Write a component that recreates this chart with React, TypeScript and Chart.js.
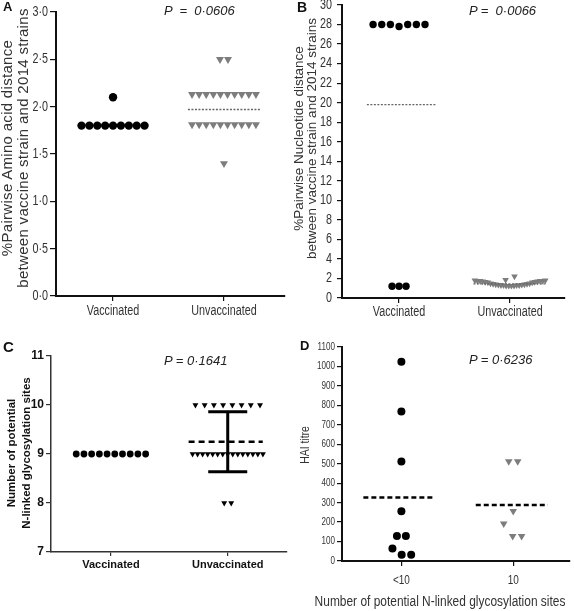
import React, { useEffect, useRef } from 'react';
import { Chart, registerables } from 'chart.js';

Chart.register(...registerables);

// ---------------- data ----------------
// Panel A
const abCategories = ['Vaccinated', 'Unvaccinated'];
const aYTicks = [0, 0.5, 1, 1.5, 2, 2.5, 3];
const aVaccinated = [2.1, 1.8, 1.8, 1.8, 1.8, 1.8, 1.8, 1.8, 1.8, 1.8];
const aUnvaccinated = [
  2.5, 2.5,
  2.13, 2.13, 2.13, 2.13, 2.13, 2.13, 2.13, 2.13, 2.13, 2.13,
  1.81, 1.81, 1.81, 1.81, 1.81, 1.81, 1.81, 1.81, 1.81, 1.81,
  1.4,
];
const aMeanUnvaccinated = 1.97;
const aPValue = 'P  =  0·0606';
const aYTitle = ['%Pairwise Amino acid distance', 'between vaccine strain and 2014 strains'];

// Panel B
const bYTicks = [0, 2, 4, 6, 8, 10, 12, 14, 16, 18, 20, 22, 24, 26, 28, 30];
const bVaccinated = [28, 28, 28, 27.8, 28, 28, 28, 1.2, 1.2, 1.2];
const bUnvaccinated = [
  1.8, 1.75, 1.75, 1.7, 1.65, 1.6, 1.5, 1.45, 1.4, 1.35, 1.3, 1.3, 1.25, 1.25,
  1.25, 1.25, 1.3, 1.3, 1.35, 1.4, 1.45, 1.5, 1.6, 1.65, 1.7, 1.75, 1.75, 1.8,
  1.85, 2.2,
];
const bMeanVaccinated = 19.8;
const bMeanUnvaccinated = 1.45;
const bPValue = 'P =  0·0066';
const bYTitle = ['%Pairwise Nucleotide distance', 'between vaccine strain and 2014 strains'];

// Panel C
const cYTicks = [7, 8, 9, 10, 11];
const cVaccinated = [9, 9, 9, 9, 9, 9, 9, 9, 9, 9];
const cUnvaccinated = [
  10, 10, 10, 10, 10, 10, 10, 10,
  9, 9, 9, 9, 9, 9, 9, 9, 9, 9, 9, 9, 9, 9, 9,
  8, 8,
];
const cMeanUnvaccinated = 9.25;
const cSdUnvaccinated = 0.61;
const cPValue = 'P = 0·1641';
const cYTitle = ['Number of potential', 'N-linked glycosylation sites'];

// Panel D
const dCategories = ['<10', '10'];
const dYTicks = [0, 100, 200, 300, 400, 500, 600, 700, 800, 900, 1000, 1100];
const dBelow10 = [1024, 768, 512, 256, 128, 128, 64, 32, 32];
const dTen = [512, 512, 256, 192, 128, 128];
const dMeanBelow10 = 327;
const dMeanTen = 288;
const dPValue = 'P = 0·6236';
const dYTitle = ['HAI titre'];
const dXTitle = 'Number of potential N-linked glycosylation sites';

// ---------------- styling / layout ----------------
const SANS = '"Liberation Sans", Arial, sans-serif';
const NARROW_X = 0.77; // horizontal squeeze emulating a narrow face
const GRAY = '#7d7d7d';
const BLACK = '#000000';

type Row = { n: number; spacing: number; shift?: number };

function place(values: number[], cat: number, rows: Row[]) {
  const pts: { x: number; y: number }[] = [];
  let k = 0;
  for (const r of rows) {
    for (let i = 0; i < r.n; i++) {
      pts.push({ x: cat + (r.shift ?? 0) + (i - (r.n - 1) / 2) * r.spacing, y: values[k++] });
    }
  }
  return pts;
}

function pointsDs(data: any[], style: 'circle' | 'triangle', color: string, radius: number) {
  return {
    data,
    pointStyle: style,
    pointRotation: style === 'triangle' ? 180 : 0,
    pointRadius: radius,
    pointHoverRadius: radius,
    backgroundColor: color,
    borderColor: color,
    borderWidth: 0,
    pointBorderWidth: 0,
    showLine: false,
    order: 2,
  };
}

function lineDs(x0: number, x1: number, y0: number, y1: number, color: string, width: number, dash: number[] = []) {
  return {
    data: [{ x: x0, y: y0 }, { x: x1, y: y1 }],
    showLine: true,
    borderColor: color,
    borderWidth: width,
    borderDash: dash,
    borderCapStyle: 'butt',
    pointRadius: 0,
    pointHoverRadius: 0,
    fill: false,
    order: 1,
  };
}

// Draws tick labels itself so that they can be horizontally condensed.
const labelPlugin = {
  id: 'condensedLabels',
  afterDraw(chart: any, _args: any, opts: any) {
    const ctx = chart.ctx as CanvasRenderingContext2D;
    for (const axis of ['x', 'y']) {
      const o = opts[axis];
      if (!o) continue;
      const sc = chart.scales[axis];
      for (const t of sc.ticks) {
        const label = o.fmt(t.value);
        const p = sc.getPixelForValue(t.value);
        ctx.save();
        ctx.font = o.font;
        ctx.fillStyle = o.color;
        ctx.textBaseline = 'middle';
        if (axis === 'y') {
          ctx.translate(sc.right - o.offset, p + (o.dy ?? 0));
          ctx.textAlign = 'right';
        } else {
          ctx.translate(p, sc.top + o.offset);
          ctx.textAlign = 'center';
        }
        ctx.scale(o.sx, 1);
        ctx.fillText(label, 0, 0);
        ctx.restore();
      }
    }
  },
};

interface AxisSpec {
  cats: string[];
  xMin: number; xMax: number;
  yTicks: number[]; yFmt: (v: number) => string;
  yWidth: number; xHeight: number;
  padding: { top: number; right: number; bottom: number; left: number };
  yFont: string; xFont: string; tickColor: string; ySx: number; xSx: number;
  yTickLen: number; yTickPad: number; xTickLen: number; xLabelY: number;
  axisWidth: number; axisColor: string;
}

function makeOptions(s: AxisSpec) {
  return {
    responsive: false,
    animation: false,
    devicePixelRatio: 1,
    events: [],
    layout: { padding: s.padding },
    plugins: {
      legend: { display: false },
      tooltip: { enabled: false },
      title: { display: false },
      condensedLabels: {
        x: { font: s.xFont, color: s.tickColor, sx: s.xSx, offset: s.xLabelY, fmt: (v: number) => s.cats[Math.round(v) - 1] ?? '' },
        y: { font: s.yFont, color: s.tickColor, sx: s.ySx, offset: s.yTickLen + s.yTickPad, fmt: s.yFmt },
      },
    },
    scales: {
      x: {
        type: 'linear',
        min: s.xMin,
        max: s.xMax,
        afterBuildTicks: (sc: any) => { sc.ticks = s.cats.map((_, i) => ({ value: i + 1 })); },
        afterFit: (sc: any) => { sc.height = s.xHeight; },
        ticks: { display: false },
        grid: { display: true, drawOnChartArea: false, drawTicks: true, tickLength: s.xTickLen, color: s.axisColor, lineWidth: 1.2 },
        border: { display: true, color: s.axisColor, width: s.axisWidth },
      },
      y: {
        type: 'linear',
        min: s.yTicks[0],
        max: s.yTicks[s.yTicks.length - 1],
        afterBuildTicks: (sc: any) => { sc.ticks = s.yTicks.map((v) => ({ value: v })); },
        afterFit: (sc: any) => { sc.width = s.yWidth; },
        ticks: { display: false },
        grid: { display: true, drawOnChartArea: false, drawTicks: true, tickLength: s.yTickLen, color: s.axisColor, lineWidth: 1.2 },
        border: { display: true, color: s.axisColor, width: s.axisWidth },
      },
    },
  };
}

const dotFmt = (v: number) => v.toFixed(1).replace('.', '·');

function configA() {
  return {
    type: 'scatter',
    plugins: [labelPlugin],
    data: {
      datasets: [
        pointsDs(place(aVaccinated, 1, [{ n: 1, spacing: 0 }, { n: 9, spacing: 0.071 }]), 'circle', BLACK, 4.2),
        pointsDs(place(aUnvaccinated, 2, [{ n: 2, spacing: 0.072 }, { n: 10, spacing: 0.064 }, { n: 10, spacing: 0.064 }, { n: 1, spacing: 0 }]), 'triangle', GRAY, 4.6),
        lineDs(2 - 0.325, 2 + 0.325, aMeanUnvaccinated, aMeanUnvaccinated, '#666', 1.3, [2, 1.5]),
      ],
    },
    options: makeOptions({
      cats: abCategories, xMin: 0.486, xMax: 2.55,
      yTicks: aYTicks, yFmt: dotFmt,
      yWidth: 56, xHeight: 29,
      padding: { top: 12, right: 5, bottom: 0, left: 0 },
      yFont: `14px ${SANS}`, xFont: `14px ${SANS}`, tickColor: '#333', ySx: NARROW_X, xSx: NARROW_X,
      yTickLen: 6, yTickPad: 2, xTickLen: 5, xLabelY: 15,
      axisWidth: 2, axisColor: '#111',
    }),
  };
}

function configB() {
  return {
    type: 'scatter',
    plugins: [labelPlugin],
    data: {
      datasets: [
        pointsDs(place(bVaccinated, 1, [{ n: 7, spacing: 0.078 }, { n: 3, spacing: 0.063 }]), 'circle', BLACK, 3.7),
        pointsDs(place(bUnvaccinated, 2, [{ n: 28, spacing: 0.0235 }, { n: 2, spacing: 0.08 }]), 'triangle', GRAY, 3.8),
        lineDs(1.02 - 0.31, 1.02 + 0.31, bMeanVaccinated, bMeanVaccinated, '#666', 1.3, [2, 1.5]),
        lineDs(2 - 0.33, 2 + 0.33, bMeanUnvaccinated, bMeanUnvaccinated, '#666', 1.3, [2, 1.5]),
      ],
    },
    options: makeOptions({
      cats: abCategories, xMin: 0.486, xMax: 2.495,
      yTicks: bYTicks, yFmt: (v) => String(v),
      yWidth: 55, xHeight: 27,
      padding: { top: 15, right: 9, bottom: 0, left: 0 },
      yFont: `14px ${SANS}`, xFont: `14px ${SANS}`, tickColor: '#333', ySx: NARROW_X, xSx: NARROW_X,
      yTickLen: 5, yTickPad: 5, xTickLen: 5, xLabelY: 14,
      axisWidth: 2, axisColor: '#111',
    }),
  };
}

function configC() {
  const lo = cMeanUnvaccinated - cSdUnvaccinated;
  const hi = cMeanUnvaccinated + cSdUnvaccinated;
  const cap = 0.167;
  return {
    type: 'scatter',
    plugins: [labelPlugin],
    data: {
      datasets: [
        pointsDs(place(cVaccinated, 1, [{ n: 10, spacing: 0.066 }]), 'circle', BLACK, 3.4),
        pointsDs(place(cUnvaccinated, 2, [{ n: 8, spacing: 0.079 }, { n: 15, spacing: 0.043 }, { n: 2, spacing: 0.06 }]), 'triangle', BLACK, 3.4),
        lineDs(2 - 0.335, 2 + 0.3, cMeanUnvaccinated, cMeanUnvaccinated, BLACK, 2.5, [6, 4]),
        lineDs(2, 2, lo, hi, BLACK, 3),
        lineDs(2 - cap, 2 + cap, hi, hi, BLACK, 3),
        lineDs(2 - cap, 2 + cap, lo, lo, BLACK, 3),
      ],
    },
    options: makeOptions({
      cats: abCategories, xMin: 0.487, xMax: 2.504,
      yTicks: cYTicks, yFmt: (v) => String(v),
      yWidth: 51, xHeight: 38,
      padding: { top: 36, right: 3, bottom: 0, left: 0 },
      yFont: `bold 12px ${SANS}`, xFont: `bold 11px ${SANS}`, tickColor: '#111', ySx: 1, xSx: 1,
      yTickLen: 5, yTickPad: 2, xTickLen: 4, xLabelY: 13,
      axisWidth: 1.5, axisColor: '#333',
    }),
  };
}

function configD() {
  return {
    type: 'scatter',
    plugins: [labelPlugin],
    data: {
      datasets: [
        pointsDs(place(dBelow10, 1, [
          { n: 1, spacing: 0 }, { n: 1, spacing: 0 }, { n: 1, spacing: 0 }, { n: 1, spacing: 0 },
          { n: 2, spacing: 0.08 }, { n: 1, spacing: 0, shift: -0.08 }, { n: 2, spacing: 0.085, shift: 0.045 },
        ]), 'circle', BLACK, 4),
        pointsDs(place(dTen, 2, [
          { n: 2, spacing: 0.08 }, { n: 1, spacing: 0 }, { n: 1, spacing: 0, shift: -0.085 }, { n: 2, spacing: 0.08, shift: 0.035 },
        ]), 'triangle', GRAY, 4.4),
        lineDs(1 - 0.34, 1 + 0.3, dMeanBelow10, dMeanBelow10, BLACK, 2.5, [5, 3]),
        lineDs(2 - 0.335, 2 + 0.31, dMeanTen, dMeanTen, BLACK, 2.5, [5, 3]),
      ],
    },
    options: makeOptions({
      cats: dCategories, xMin: 0.469, xMax: 2.504,
      yTicks: dYTicks, yFmt: (v) => String(v),
      yWidth: 55, xHeight: 50,
      padding: { top: 27, right: 2, bottom: 0, left: 0 },
      yFont: `10.5px ${SANS}`, xFont: `13px ${SANS}`, tickColor: '#333', ySx: NARROW_X, xSx: NARROW_X,
      yTickLen: 5, yTickPad: 2, xTickLen: 5, xLabelY: 19,
      axisWidth: 2, axisColor: '#111',
    }),
  };
}

// ---------------- components ----------------
function ChartCanvas({ left, top, width, height, make }: { left: number; top: number; width: number; height: number; make: () => any }) {
  const ref = useRef<HTMLCanvasElement>(null);
  useEffect(() => {
    const chart = new Chart(ref.current as HTMLCanvasElement, make());
    return () => chart.destroy();
  }, []);
  return (
    <canvas
      ref={ref}
      width={width}
      height={height}
      style={{ position: 'absolute', left, top, width, height, display: 'block' }}
    />
  );
}

function Text({ x, cy, text, font, color = '#111', align = 'left', sx = 1 }: any) {
  const h = 20;
  const w = 400;
  return (
    <div
      style={{
        position: 'absolute',
        left: align === 'center' ? x - w / 2 : x,
        width: align === 'center' ? w : undefined,
        top: cy - h / 2,
        height: h,
        lineHeight: h + 'px',
        font,
        color,
        whiteSpace: 'pre',
        textAlign: align,
        transform: sx !== 1 ? `scaleX(${sx})` : undefined,
        transformOrigin: 'center center',
      }}
    >
      {text}
    </div>
  );
}

function VText({ cx, cy, lines, font, lh, color = '#222', letterSpacing = 'normal', sx = 1 }: any) {
  const len = 320;
  const h = lines.length * lh;
  return (
    <div
      style={{
        position: 'absolute',
        left: cx - len / 2,
        top: cy - h / 2,
        width: len,
        height: h,
        transform: `rotate(-90deg) scaleX(${sx})`,
        transformOrigin: 'center center',
        font,
        lineHeight: lh + 'px',
        textAlign: 'center',
        whiteSpace: 'nowrap',
        color,
        letterSpacing,
      }}
    >
      {lines.map((l: string, i: number) => (
        <div key={i}>{l}</div>
      ))}
    </div>
  );
}

export default function App() {
  return (
    <div style={{ position: 'absolute', left: 0, top: 0, width: 574, height: 611, background: '#fff', overflow: 'hidden' }}>
      <ChartCanvas left={0} top={0} width={290} height={325} make={configA} />
      <ChartCanvas left={287} top={-10} width={287} height={335} make={configB} />
      <ChartCanvas left={0} top={320} width={290} height={270} make={configC} />
      <ChartCanvas left={287} top={320} width={287} height={291} make={configD} />

      <Text x={3} cy={9} text="A" font={`bold 13px ${SANS}`} />
      <Text x={297} cy={9} text="B" font={`bold 14px ${SANS}`} />
      <Text x={3} cy={348} text="C" font={`bold 15px ${SANS}`} />
      <Text x={300} cy={348} text="D" font={`bold 13px ${SANS}`} />

      <Text x={164} cy={13} text={aPValue} font={`italic 13px ${SANS}`} color="#222" />
      <Text x={469} cy={13} text={bPValue} font={`italic 13px ${SANS}`} color="#222" />
      <Text x={164} cy={363} text={cPValue} font={`italic 13px ${SANS}`} color="#222" />
      <Text x={469} cy={362} text={dPValue} font={`italic 13px ${SANS}`} color="#222" />

      <VText cx={15} cy={148} lines={aYTitle} font={`15px ${SANS}`} lh={16} color="#333" letterSpacing="0.3px" />
      <VText cx={305} cy={138} lines={bYTitle} font={`13.5px ${SANS}`} lh={12.5} color="#333" />
      <VText cx={18.5} cy={453} lines={cYTitle} font={`bold 11.5px ${SANS}`} lh={15} color="#111" />
      <VText cx={305} cy={445} lines={dYTitle} font={`13.5px ${SANS}`} lh={14} color="#333" sx={NARROW_X} />

      <Text x={440} cy={602} text={dXTitle} font={`15.5px ${SANS}`} color="#333" align="center" sx={NARROW_X} />
    </div>
  );
}
